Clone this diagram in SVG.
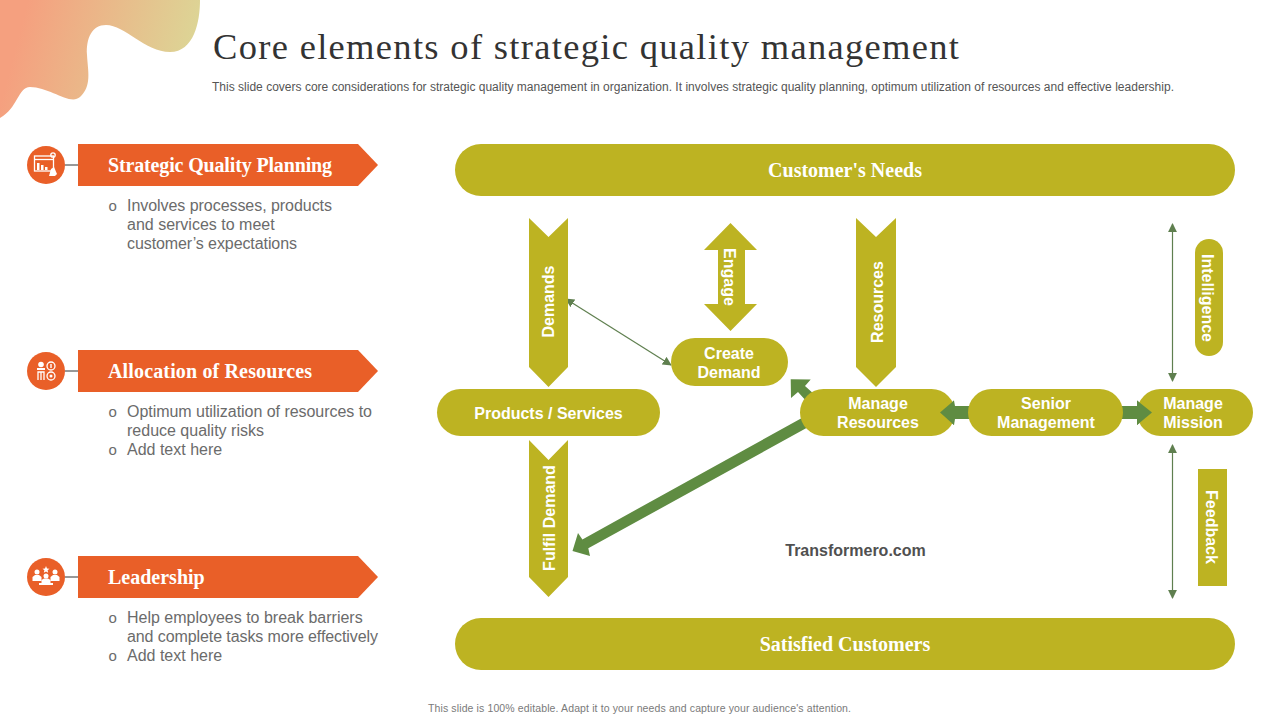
<svg xmlns="http://www.w3.org/2000/svg" width="1280" height="720" viewBox="0 0 1280 720">
<style>
.ol{fill:#bdb322}
.gr{fill:#5f8c42}
.or{fill:#e95f28}
.sans{font-family:"Liberation Sans",Arial,sans-serif}
.serif{font-family:"Liberation Serif","Times New Roman",serif}
.lab{font-family:"Liberation Sans",Arial,sans-serif;font-weight:700;font-size:16px;fill:#fff;text-anchor:middle}
.bar{font-family:"Liberation Serif","Times New Roman",serif;font-weight:700;font-size:20px;fill:#fff;text-anchor:middle}
.ban{font-family:"Liberation Serif","Times New Roman",serif;font-weight:700;font-size:20px;fill:#fff}
.body{font-family:"Liberation Sans",Arial,sans-serif;font-size:16px;fill:#6b6b6b}
.bul{font-family:"Liberation Sans",Arial,sans-serif;font-size:15px;fill:#6b6b6b}
.thin{stroke:#5f7f4f;stroke-width:1.2;fill:none;marker-start:url(#tip);marker-end:url(#tip)}
.ic{fill:#fff}
.icl{fill:none;stroke:#fff;stroke-width:1.3}
</style>
<defs>
<linearGradient id="blob" gradientUnits="userSpaceOnUse" x1="20" y1="30" x2="190" y2="75">
<stop offset="0" stop-color="#f5a07f"/><stop offset="1" stop-color="#dcd696"/>
</linearGradient>
<marker id="tip" viewBox="0 0 10 10" refX="9" refY="5" markerWidth="9" markerHeight="9" markerUnits="userSpaceOnUse" orient="auto-start-reverse">
<path d="M0 0L10 5L0 10Z" fill="#5f7f4f"/>
</marker>
</defs>

<path id="blob-shape" fill="url(#blob)" d="M0 0H200C200 22 194 52 170 52C145 52 125 25 106 25C92 25 86 38 87 55C88 72 92 86 80 97C70 106 50 87 30 87C18 87 18 108 0 118Z"/>

<text class="serif" x="213" y="59" font-size="36.500" fill="#333" textLength="746" lengthAdjust="spacing">Core elements of strategic quality management</text>
<text class="sans" x="212" y="91" font-size="12" fill="#555" textLength="962" lengthAdjust="spacing">This slide covers core considerations for strategic quality management in organization. It involves strategic quality planning, optimum utilization of resources and effective leadership.</text>

<g id="item-planning">
<line x1="65" y1="165" x2="78" y2="165" stroke="#333" stroke-width="1"/>
<circle cx="46" cy="165" r="19" fill="#e95f28"/>
<g>
<rect class="icl" x="34.500" y="156" width="19" height="15"/>
<line class="icl" x1="34.500" y1="159.500" x2="53.500" y2="159.500"/>
<rect class="ic" x="37" y="163" width="2.500" height="7"/><rect class="ic" x="41" y="165" width="2.500" height="5"/><rect class="ic" x="45" y="167" width="2.500" height="3"/>
<circle class="icl" cx="53" cy="155" r="2.200"/>
<path class="ic" d="M49 176L51 169L54 167L57 174L55 176Z"/>
</g>
<path class="or" d="M78 144H358L378 165L358 186H78Z"/>
<text class="ban" x="108" y="172" textLength="224" lengthAdjust="spacing">Strategic Quality Planning</text>
<text class="bul" x="108.500" y="211">o</text>
<text class="body" x="127" y="211" textLength="205" lengthAdjust="spacing">Involves  processes, products</text>
<text class="body" x="127" y="230">and services to meet</text>
<text class="body" x="127" y="249" textLength="170" lengthAdjust="spacing">customer’s expectations</text>
</g>

<g id="item-allocation">
<line x1="65" y1="371" x2="78" y2="371" stroke="#333" stroke-width="1"/>
<circle cx="46" cy="371" r="19" fill="#e95f28"/>
<g>
<circle class="ic" cx="41" cy="364.500" r="2.800"/>
<rect class="ic" x="37" y="368" width="8" height="2"/>
<path class="icl" d="M38 380V372H44V380M41 372V380"/>
<circle class="icl" cx="51" cy="366" r="4"/>
<circle class="icl" cx="51" cy="376" r="4"/>
<circle class="ic" cx="51" cy="376" r="1.500"/>
<rect class="ic" x="50.300" y="364" width="1.400" height="4"/>
</g>
<path class="or" d="M78 350H358L378 371L358 392H78Z"/>
<text class="ban" x="108" y="378" textLength="204" lengthAdjust="spacing">Allocation of Resources</text>
<text class="bul" x="108.500" y="417">o</text>
<text class="body" x="127" y="417" textLength="245" lengthAdjust="spacing">Optimum utilization of resources to</text>
<text class="body" x="127" y="436">reduce quality risks</text>
<text class="bul" x="108.500" y="455">o</text>
<text class="body" x="127" y="455">Add text here</text>
</g>

<g id="item-leadership">
<line x1="65" y1="577" x2="78" y2="577" stroke="#333" stroke-width="1"/>
<circle cx="46" cy="577" r="19" fill="#e95f28"/>
<g>
<circle class="ic" cx="37" cy="572" r="2.500"/><path class="ic" d="M32.500 581V577L35 575H39L41.500 577V581Z"/>
<circle class="ic" cx="55" cy="572" r="2.500"/><path class="ic" d="M50.500 581V577L53 575H57L59.500 577V581Z"/>
<path class="ic" d="M46 566L47 568.500L49.500 568.700L47.600 570.300L48.200 572.800L46 571.400L43.800 572.800L44.400 570.300L42.500 568.700L45 568.500Z"/>
<circle class="ic" cx="46" cy="576" r="2.500"/><path class="ic" d="M41.500 583V580L44 578.500H48L50.500 580V583H53V585H39V583Z"/>
</g>
<path class="or" d="M78 556H358L378 577L358 598H78Z"/>
<text class="ban" x="108" y="584">Leadership</text>
<text class="bul" x="108.500" y="623">o</text>
<text class="body" x="127" y="623">Help employees to break barriers</text>
<text class="body" x="127" y="642" textLength="251" lengthAdjust="spacing">and complete tasks more effectively</text>
<text class="bul" x="108.500" y="661">o</text>
<text class="body" x="127" y="661">Add text here</text>
</g>

<g id="connectors">
<line class="thin" x1="566" y1="299" x2="671" y2="365"/>
<line class="thin" x1="1172.500" y1="224" x2="1172.500" y2="381"/>
<line class="thin" x1="1172.500" y1="445" x2="1172.500" y2="598"/>
<polygon class="gr" points="805,416.200 811,425.600 588.300,548.300 590,556 572.500,551 578,533 582.400,539.400"/>
<polygon class="gr" points="790.700,379.300 810.700,379.500 805,386 815,395 808,403 798,392 791,398"/>
<polygon class="gr" points="969,406 954,406 954,400.500 940,412.500 954,425 954,419 969,419"/>
<polygon class="gr" points="1122,406 1137,406 1137,400.500 1152,412.500 1137,425 1137,419 1122,419"/>
</g>

<g id="customers-needs">
<rect class="ol" x="455" y="144" width="780" height="52" rx="26"/>
<text class="bar" x="845" y="177">Customer's Needs</text>
</g>
<g id="satisfied-customers">
<rect class="ol" x="455" y="618" width="780" height="52" rx="26"/>
<text class="bar" x="845" y="651">Satisfied Customers</text>
</g>

<g id="demands">
<polygon class="ol" points="529,218 548.500,237 568,218 568,367 548.500,387 529,367"/>
<text class="lab" transform="translate(554,301.500) rotate(-90)">Demands</text>
</g>
<g id="resources">
<polygon class="ol" points="856,218 876,237 896,218 896,367 876,387 856,367"/>
<text class="lab" transform="translate(883,302) rotate(-90)">Resources</text>
</g>
<g id="fulfil-demand">
<polygon class="ol" points="529,440 548.500,460 568,440 568,577 548.500,597 529,577"/>
<text class="lab" transform="translate(555,518) rotate(-90)">Fulfil Demand</text>
</g>
<g id="engage">
<polygon class="ol" points="730.500,223 757,250 745,250 745,304 757,304 730.500,331 704,304 718,304 718,250 704,250"/>
<text class="lab" transform="translate(724,277) rotate(90)">Engage</text>
</g>
<g id="create-demand">
<rect class="ol" x="671" y="338" width="117" height="48" rx="24"/>
<text class="lab" x="729" y="358.500">Create</text>
<text class="lab" x="729" y="377.500">Demand</text>
</g>
<g id="products-services">
<rect class="ol" x="437" y="389" width="223" height="47" rx="23.500"/>
<text class="lab" x="548.500" y="419">Products / Services</text>
</g>
<g id="manage-resources">
<path class="ol" d="M823.500 389H931.500A23.500 23.500 0 0 1 955 412.500A23.500 23.500 0 0 1 931.500 436H823.500A23.500 23.500 0 0 1 800 412.500A23.500 23.500 0 0 1 823.500 389Z"/>
<polygon class="gr" points="955,406 954,400.500 940,412.500 954,425 955,419"/>
<text class="lab" x="878" y="409">Manage</text>
<text class="lab" x="878" y="428">Resources</text>
</g>
<g id="senior-management">
<rect class="ol" x="968" y="389" width="155" height="47" rx="23.500"/>
<text class="lab" x="1046" y="409">Senior</text>
<text class="lab" x="1046" y="428">Management</text>
</g>
<g id="manage-mission">
<rect class="ol" x="1137" y="389" width="116" height="47" rx="23.500"/>
<polygon class="gr" points="1137,406 1137,400.500 1152,412.500 1137,425 1137,419"/>
<text class="lab" x="1193" y="409">Manage</text>
<text class="lab" x="1193" y="428">Mission</text>
</g>
<g id="intelligence">
<rect class="ol" x="1195" y="239" width="28" height="117" rx="14"/>
<text class="lab" transform="translate(1202,298) rotate(90)">Intelligence</text>
</g>
<g id="feedback">
<rect class="ol" x="1198" y="469" width="29" height="117"/>
<text class="lab" transform="translate(1206,527) rotate(90)">Feedback</text>
</g>

<text class="sans" x="855.500" y="556" font-size="16" font-weight="700" fill="#505050" text-anchor="middle">Transformero.com</text>
<text class="sans" x="428" y="712" font-size="10.500" fill="#7a7a7a" textLength="423" lengthAdjust="spacing">This slide is 100% editable. Adapt it to your needs and capture your audience's attention.</text>
</svg>
